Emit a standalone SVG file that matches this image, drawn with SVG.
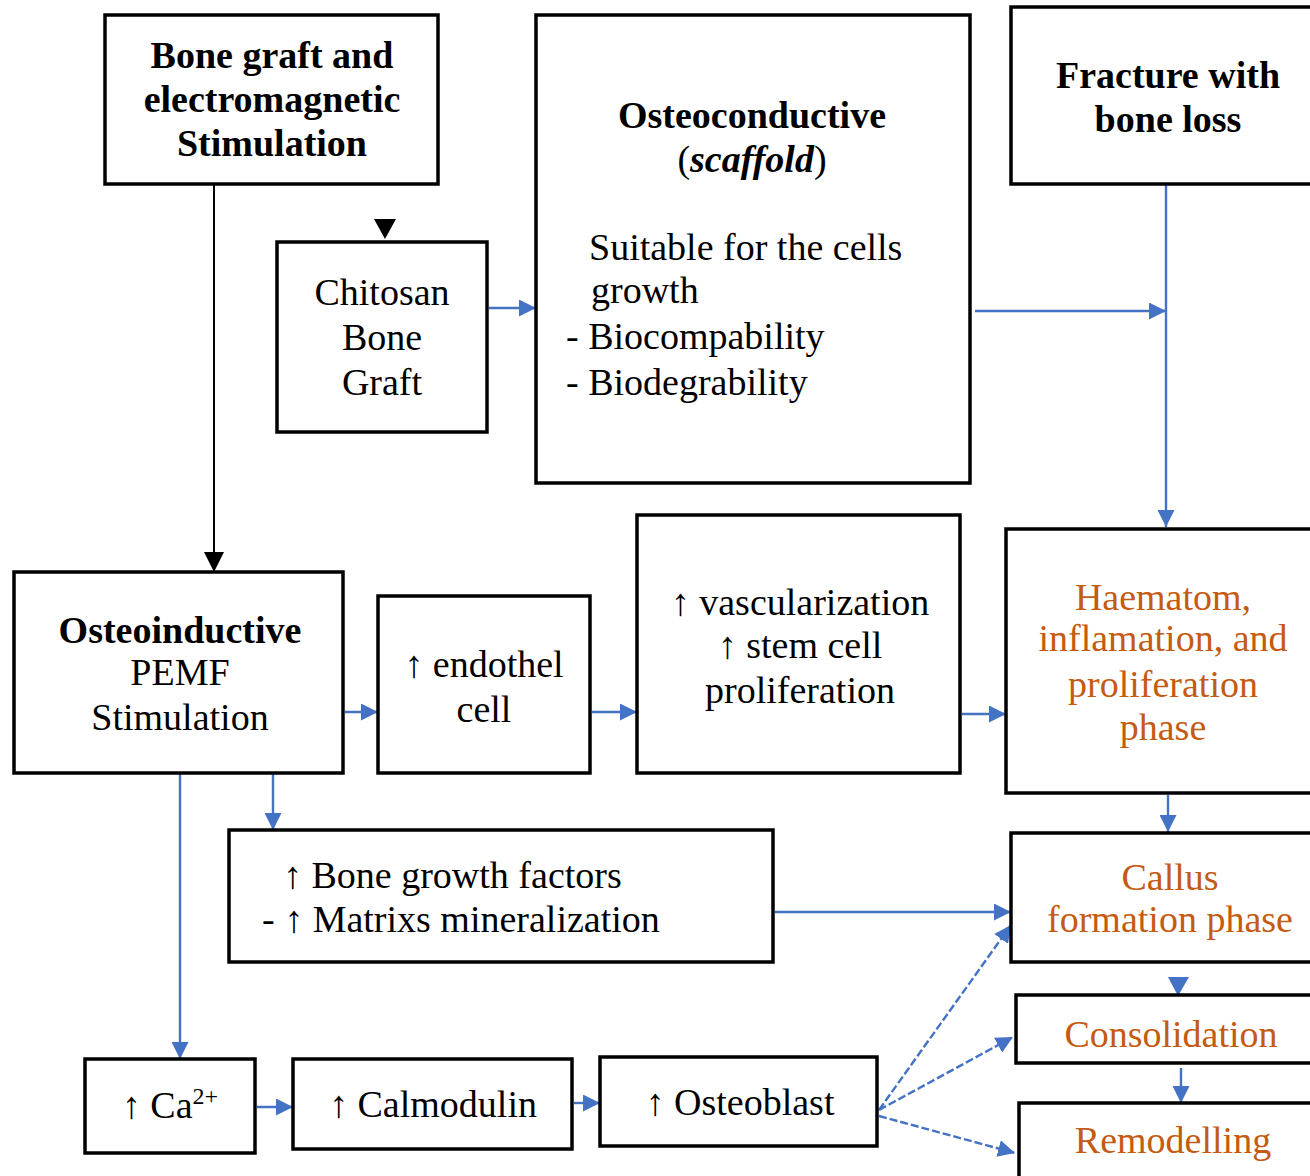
<svg xmlns="http://www.w3.org/2000/svg" width="1310" height="1176" viewBox="0 0 1310 1176">
<defs>
<style>
.box{fill:#fff;stroke:#000;stroke-width:3.5}
.t{font-family:"Liberation Serif","Times New Roman",serif;font-size:38px;fill:#000}
.c{text-anchor:middle}
.b{font-weight:bold}
.o{fill:#C55A11}
.bl{stroke:#4472C4;stroke-width:2.4;fill:none}
.bk{stroke:#000;stroke-width:2;fill:none}
.dash{stroke-dasharray:8 3}
</style>
<marker id="ab" viewBox="0 0 10 10" refX="10" refY="5" markerUnits="userSpaceOnUse" markerWidth="17" markerHeight="17" orient="auto">
<path d="M0,0 L10,5 L0,10 z" fill="#4472C4"/>
</marker>
<marker id="ak" viewBox="0 0 10 10" refX="10" refY="5" markerUnits="userSpaceOnUse" markerWidth="20" markerHeight="20" orient="auto">
<path d="M0,0 L10,5 L0,10 z" fill="#000"/>
</marker>
</defs>
<rect width="1310" height="1176" fill="#fff"/>

<g id="connectors">
<path class="bk" d="M214,184 L214,572" marker-end="url(#ak)"/>
<polygon points="374,219 396,219 385,239" fill="#000"/>
<path class="bl" d="M489,308 L536,308" marker-end="url(#ab)"/>
<path class="bl" d="M975,311 L1166,311" marker-end="url(#ab)"/>
<path class="bl" d="M1166,184 L1166,527" marker-end="url(#ab)"/>
<path class="bl" d="M345,712 L378,712" marker-end="url(#ab)"/>
<path class="bl" d="M592,712 L637,712" marker-end="url(#ab)"/>
<path class="bl" d="M962,714 L1006,714" marker-end="url(#ab)"/>
<path class="bl" d="M1168,795 L1168,832" marker-end="url(#ab)"/>
<path class="bl" d="M180,773 L180,1059" marker-end="url(#ab)"/>
<path class="bl" d="M273,773 L273,830" marker-end="url(#ab)"/>
<path class="bl" d="M775,912 L1011,912" marker-end="url(#ab)"/>
<polygon points="1168,977 1189,977 1178,996" fill="#4472C4"/>
<path class="bl" d="M1181,1068 L1181,1103" marker-end="url(#ab)"/>
<path class="bl" d="M257,1107 L293,1107" marker-end="url(#ab)"/>
<path class="bl" d="M574,1103 L600,1103" marker-end="url(#ab)"/>
<path class="bl dash" d="M879,1110 L1011,925" marker-end="url(#ab)"/>
<path class="bl dash" d="M879,1110 L1013,1037" marker-end="url(#ab)"/>
<path class="bl dash" d="M879,1116 L1015,1153" marker-end="url(#ab)"/>
</g>

<g id="n-bonegraft">
<rect class="box" x="105" y="15" width="333" height="169"/>
<text class="t b c" x="272" y="68">Bone graft and</text>
<text class="t b c" x="272" y="112">electromagnetic</text>
<text class="t b c" x="272" y="156">Stimulation</text>
</g>

<g id="n-chitosan">
<rect class="box" x="277" y="242" width="210" height="190"/>
<text class="t c" x="382" y="305">Chitosan</text>
<text class="t c" x="382" y="350">Bone</text>
<text class="t c" x="382" y="395">Graft</text>
</g>

<g id="n-osteoconductive">
<rect class="box" x="536" y="15" width="434" height="468"/>
<text class="t b c" x="752" y="128">Osteoconductive</text>
<text class="t c" x="752" y="172">(<tspan font-style="italic" font-weight="bold">scaffold</tspan>)</text>
<text class="t" x="589" y="260">Suitable for the cells</text>
<text class="t" x="591" y="303">growth</text>
<text class="t" x="566" y="349">- Biocompability</text>
<text class="t" x="566" y="395">- Biodegrability</text>
</g>

<g id="n-fracture">
<rect class="box" x="1011" y="7" width="310" height="177"/>
<text class="t b c" x="1168" y="88">Fracture with</text>
<text class="t b c" x="1168" y="132">bone loss</text>
</g>

<g id="n-osteoinductive">
<rect class="box" x="14" y="572" width="329" height="201"/>
<text class="t b c" x="180" y="643">Osteoinductive</text>
<text class="t c" x="180" y="685">PEMF</text>
<text class="t c" x="180" y="730">Stimulation</text>
</g>

<g id="n-endothel">
<rect class="box" x="378" y="596" width="212" height="177"/>
<text class="t c" x="484" y="677">↑ endothel</text>
<text class="t c" x="484" y="722">cell</text>
</g>

<g id="n-vascular">
<rect class="box" x="637" y="515" width="323" height="258"/>
<text class="t c" x="800" y="615">↑ vascularization</text>
<text class="t c" x="800" y="658">↑ stem cell</text>
<text class="t c" x="800" y="703">proliferation</text>
</g>

<g id="n-haematom">
<rect class="box" x="1006" y="529" width="314" height="264"/>
<text class="t c o" x="1163" y="610">Haematom,</text>
<text class="t c o" x="1163" y="651">inflamation, and</text>
<text class="t c o" x="1163" y="697">proliferation</text>
<text class="t c o" x="1163" y="740">phase</text>
</g>

<g id="n-bgf">
<rect class="box" x="229" y="830" width="544" height="132"/>
<text class="t" x="283" y="888">↑ Bone growth factors</text>
<text class="t" x="262" y="932">- ↑ Matrixs mineralization</text>
</g>

<g id="n-callus">
<rect class="box" x="1011" y="833" width="309" height="129"/>
<text class="t c o" x="1170" y="890">Callus</text>
<text class="t c o" x="1170" y="932">formation phase</text>
</g>

<g id="n-consolidation">
<rect class="box" x="1016" y="995" width="304" height="68"/>
<text class="t c o" x="1171" y="1047">Consolidation</text>
</g>

<g id="n-remodelling">
<rect class="box" x="1019" y="1103" width="301" height="90"/>
<text class="t c o" x="1173" y="1153">Remodelling</text>
</g>

<g id="n-ca">
<rect class="box" x="85" y="1059" width="170" height="94"/>
<text class="t c" x="170" y="1118">↑ Ca<tspan font-size="24" dy="-14">2+</tspan></text>
</g>

<g id="n-calmodulin">
<rect class="box" x="293" y="1059" width="279" height="90"/>
<text class="t c" x="433" y="1117">↑ Calmodulin</text>
</g>

<g id="n-osteoblast">
<rect class="box" x="600" y="1057" width="277" height="89"/>
<text class="t c" x="740" y="1115">↑ Osteoblast</text>
</g>
</svg>
